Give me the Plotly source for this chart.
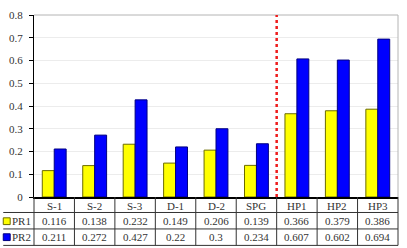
import plotly.graph_objects as go

categories = ["S-1", "S-2", "S-3", "D-1", "D-2", "SPG", "HP1", "HP2", "HP3"]
pr1 = [0.116, 0.138, 0.232, 0.149, 0.206, 0.139, 0.366, 0.379, 0.386]
pr2 = [0.211, 0.272, 0.427, 0.22, 0.3, 0.234, 0.607, 0.602, 0.694]
series_names = ["PR1", "PR2"]
y_ticks = [0, 0.1, 0.2, 0.3, 0.4, 0.5, 0.6, 0.7, 0.8]

W, H = 407, 248
ML, MR, MT, MB = 31, 9, 9, 51
PW = W - ML - MR
PH = H - MT - MB

FONT = "Liberation Serif"
TXT = "#333333"


def py(pix):
    return (H - MB - pix) / PH


def px(pix):
    return (pix - ML) / PW


fig = go.Figure()
fig.add_trace(go.Bar(x=categories, y=pr1, name="PR1",
                     marker=dict(color="#ffff00", line=dict(color="#6b6b00", width=1))))
fig.add_trace(go.Bar(x=categories, y=pr2, name="PR2",
                     marker=dict(color="#0000ff", line=dict(color="#000080", width=1))))

shapes = []
annotations = []
n = len(categories)

# plot border top/right (gray)
shapes.append(dict(type="line", xref="paper", yref="paper", x0=0, x1=1, y0=1, y1=1,
                   line=dict(color="#b4b4b4", width=1)))
shapes.append(dict(type="line", xref="paper", yref="paper", x0=1, x1=1, y0=0, y1=1,
                   line=dict(color="#b4b4b4", width=1)))

# separator dotted line
shapes.append(dict(type="line", xref="x", yref="y", x0=5.5, x1=5.5, y0=0, y1=0.8,
                   line=dict(color="#ee1c1c", width=2.5, dash="dot")))

# table lines
row_lines = [py(213), py(230), py(247)]
for yl in row_lines:
    shapes.append(dict(type="line", xref="paper", yref="paper", x0=px(0), x1=1, y0=yl, y1=yl,
                       line=dict(color="#333333", width=1)))
for i in range(n + 1):
    xb = i / n
    shapes.append(dict(type="line", xref="paper", yref="paper", x0=xb, x1=xb, y0=0, y1=py(247),
                       line=dict(color="#333333", width=1)))

# category labels
cat_y = py(206)
for c in categories:
    annotations.append(dict(x=c, y=cat_y, xref="x", yref="paper", text=c, showarrow=False,
                            font=dict(family=FONT, size=11, color=TXT), xanchor="center", yanchor="middle"))
row_y = [py(222), py(238.5)]
for vals, ry in zip([pr1, pr2], row_y):
    for c, v in zip(categories, vals):
        annotations.append(dict(x=c, y=ry, xref="x", yref="paper", text=str(v), showarrow=False,
                                font=dict(family=FONT, size=11, color=TXT), xanchor="center",
                                yanchor="middle"))

# legend keys
colors = [("#ffff00", "#6b6b00"), ("#0000ff", "#000080")]
for (fc, lc), ry, nm in zip(colors, row_y, series_names):
    shapes.append(dict(type="rect", xref="paper", yref="paper", x0=px(0), x1=px(7),
                       y0=ry - 3.5 / PH, y1=ry + 3.5 / PH, fillcolor=fc, line=dict(color=lc, width=1)))
    annotations.append(dict(x=px(18), y=ry, xref="paper", yref="paper", text=nm, showarrow=False,
                            font=dict(family=FONT, size=11, color=TXT), xanchor="center", yanchor="middle"))

fig.update_layout(
    width=W, height=H,
    margin=dict(l=ML, r=MR, t=MT, b=MB),
    paper_bgcolor="white", plot_bgcolor="white",
    barmode="group", bargap=0.41, bargroupgap=0,
    showlegend=False,
    shapes=shapes, annotations=annotations,
    xaxis=dict(range=[-0.5, n - 0.5], showticklabels=False, ticks="", showgrid=False,
               showline=True, linecolor="#000000", linewidth=1.5, zeroline=False, fixedrange=True),
    yaxis=dict(range=[0, 0.8], tickvals=y_ticks, ticktext=[("%g" % v) for v in y_ticks],
               ticks="outside", ticklen=4, tickcolor="#000000", showline=True, linecolor="#000000",
               linewidth=1, showgrid=True, gridcolor="#ececec", gridwidth=1, zeroline=False,
               tickfont=dict(family=FONT, size=11, color=TXT), ticklabelstandoff=4),
)

fig.write_html("out.html")
